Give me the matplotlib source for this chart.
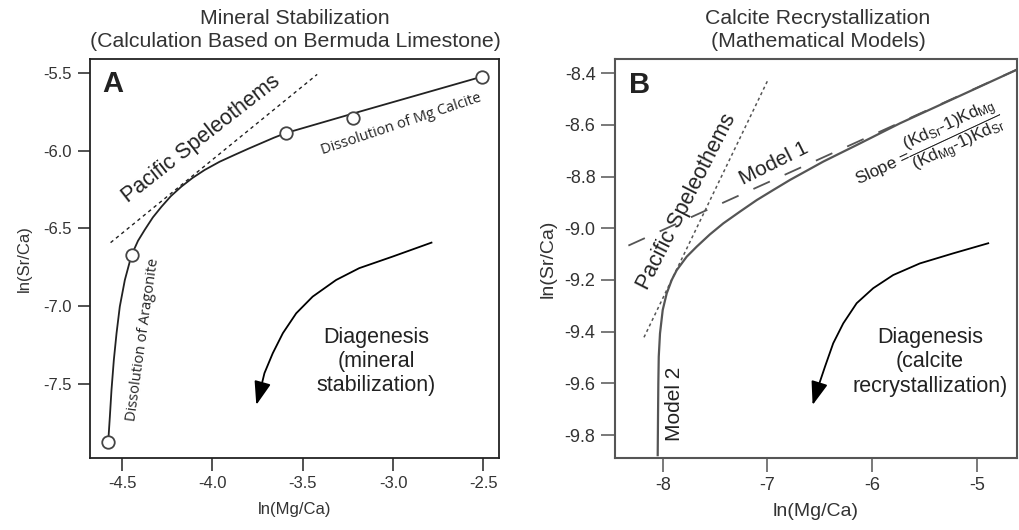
import matplotlib
matplotlib.use("Agg")
import matplotlib.pyplot as plt
import numpy as np

plt.rcParams['font.family'] = ['Liberation Sans', 'DejaVu Sans']
plt.rcParams['mathtext.fontset'] = 'custom'
plt.rcParams['mathtext.rm'] = 'Liberation Sans'
plt.rcParams['mathtext.it'] = 'Liberation Sans'

# ---- panel A data ----
a_pts_x = [-4.577, -4.448, -3.594, -3.224, -2.509]
a_pts_y = [-7.871, -6.672, -5.888, -5.788, -5.526]

a_curve_x = [-4.577, -4.568, -4.559, -4.546, -4.531, -4.513, -4.485, -4.448,
             -4.412, -4.375, -4.330, -4.282, -4.230, -4.172, -4.110, -4.043,
             -3.960, -3.877, -3.800, -3.730, -3.660, -3.594, -3.187, -2.509]
a_curve_y = [-7.871, -7.710, -7.539, -7.346, -7.174, -7.003, -6.832, -6.672,
             -6.580, -6.510, -6.430, -6.361, -6.293, -6.232, -6.176, -6.125,
             -6.072, -6.028, -5.988, -5.953, -5.918, -5.888, -5.751, -5.526]

a_pac_x = [-4.564, -3.420]
a_pac_y = [-6.592, -5.511]

a_arrow_x = [-2.787, -3.003, -3.187, -3.315, -3.445, -3.536, -3.610, -3.666,
             -3.712, -3.739, -3.757]
a_arrow_y = [-6.592, -6.682, -6.756, -6.832, -6.939, -7.046, -7.174, -7.303,
             -7.431, -7.560, -7.635]

a_xticks = [-4.5, -4.0, -3.5, -3.0, -2.5]
a_yticks = [-5.5, -6.0, -6.5, -7.0, -7.5]

# ---- panel B data ----
b_curve_x = [-8.048, -8.045, -8.042, -8.038, -8.026, -8.000, -7.962, -7.914,
             -7.866, -7.771, -7.675, -7.550, -7.421, -7.260, -7.102, -6.940,
             -6.784, -6.466, -6.147, -5.734, -4.588]
b_curve_y = [-9.878, -9.729, -9.600, -9.497, -9.407, -9.316, -9.252, -9.200,
             -9.162, -9.110, -9.071, -9.024, -8.981, -8.935, -8.891, -8.851,
             -8.813, -8.742, -8.678, -8.594, -8.381]

b_model1_x = [-8.328, -4.588]
b_model1_y = [-9.067, -8.381]

b_pac_x = [-8.179, -6.991]
b_pac_y = [-9.422, -8.423]

b_arrow_x = [-4.890, -5.224, -5.543, -5.798, -5.989, -6.147, -6.275, -6.371,
             -6.450, -6.514, -6.568]
b_arrow_y = [-9.058, -9.097, -9.136, -9.181, -9.232, -9.290, -9.368, -9.445,
             -9.536, -9.613, -9.684]

b_xticks = [-8, -7, -6, -5]
b_yticks = [-8.4, -8.6, -8.8, -9.0, -9.2, -9.4, -9.6, -9.8]

titles_a = ['Mineral Stabilization', '(Calculation Based on Bermuda Limestone)']
titles_b = ['Calcite Recrystallization', '(Mathematical Models)']

fig = plt.figure(figsize=(10.2, 5.3), dpi=100)
axA = fig.add_axes([90 / 1020, 1 - 458 / 530, 409 / 1020, 399 / 530])
axB = fig.add_axes([615 / 1020, 1 - 458 / 530, 402 / 1020, 399 / 530])

dark = '#222222'
gray = '#555555'
arrow_style = '-|>,head_length=0.9,head_width=0.32'


def draw_arrow(ax, xs, ys):
    ax.plot(xs[:-1], ys[:-1], color='black', lw=1.3)
    ax.annotate('', xy=(xs[-1], ys[-1]), xytext=(xs[-2], ys[-2]),
                arrowprops=dict(arrowstyle=arrow_style, color='black', lw=1.3,
                                mutation_scale=16, shrinkA=0, shrinkB=0))


# ---------------- panel A ----------------
axA.plot(a_curve_x, a_curve_y, color=dark, lw=1.3)
axA.plot(a_pts_x, a_pts_y, 'o', ms=9, mfc='white', mec='#444444', mew=1.3)
axA.plot(a_pac_x, a_pac_y, color=dark, lw=1.0, ls=(0, (2.5, 2.5)))
draw_arrow(axA, a_arrow_x, a_arrow_y)

axA.set_xlim(-4.678, -2.413)
axA.set_ylim(-7.976, -5.412)
axA.set_xticks(a_xticks)
axA.set_xticklabels(['%.1f' % v for v in a_xticks])
axA.set_yticks(a_yticks)
axA.set_yticklabels(['%.1f' % v for v in a_yticks])
axA.tick_params(direction='out', length=9, width=1.1, labelsize=12,
                colors=dark, labelcolor='#333333', pad=4)
for s in axA.spines.values():
    s.set_color(dark)
    s.set_linewidth(1.3)
axA.set_xlabel('ln(Mg/Ca)', fontsize=12, color='#333333', labelpad=8)
axA.set_ylabel('ln(Sr/Ca)', fontsize=12, color='#333333', labelpad=8)

axA.text(-4.55, -5.57, 'A', fontsize=21, fontweight='bold', color=dark,
         ha='center', va='center')
axA.text(-4.06, -5.925, 'Pacific Speleothems', fontsize=15.5, rotation=38,
         ha='center', va='center', color=dark, rotation_mode='anchor')
axA.text(-2.956, -5.829, 'Dissolution of Mg Calcite', fontsize=10.5,
         family=['Open Sans', 'DejaVu Sans'], rotation=18.5, ha='center',
         va='center', color=dark, rotation_mode='anchor')
axA.text(-4.386, -7.217, 'Dissolution of Aragonite', fontsize=10.5,
         family=['Open Sans', 'DejaVu Sans'], rotation=82, ha='center',
         va='center', color=dark, rotation_mode='anchor')
axA.text(-3.094, -7.357, 'Diagenesis\n(mineral\nstabilization)', fontsize=15.5,
         ha='center', va='center', color=dark, linespacing=1.2)

# ---------------- panel B ----------------
axB.plot(b_curve_x, b_curve_y, color=gray, lw=1.6)
axB.plot(b_model1_x, b_model1_y, color=gray, lw=1.3, ls=(0, (10, 9)))
axB.plot(b_pac_x, b_pac_y, color=gray, lw=1.1, ls=(0, (2, 2)))
draw_arrow(axB, b_arrow_x, b_arrow_y)

axB.set_xlim(-8.456, -4.615)
axB.set_ylim(-9.889, -8.345)
axB.set_xticks(b_xticks)
axB.set_xticklabels(['%d' % v for v in b_xticks])
axB.set_yticks(b_yticks)
axB.set_yticklabels(['%.1f' % v for v in b_yticks])
axB.tick_params(direction='out', length=10, width=1.1, labelsize=13,
                colors=gray, labelcolor='#333333', pad=4)
for s in axB.spines.values():
    s.set_color(gray)
    s.set_linewidth(1.5)
axB.set_xlabel('ln(Mg/Ca)', fontsize=14, color='#333333', labelpad=6)
axB.set_ylabel('ln(Sr/Ca)', fontsize=14, color='#333333', labelpad=6)

axB.text(-8.217, -8.445, 'B', fontsize=21, fontweight='bold', color=dark,
         ha='center', va='center')
axB.text(-7.771, -8.897, 'Pacific Speleothems', fontsize=15.5, rotation=63,
         ha='center', va='center', color=dark, rotation_mode='anchor')
axB.text(-6.943, -8.748, 'Model 1', fontsize=15, rotation=26.5,
         ha='center', va='center', color=dark, rotation_mode='anchor')
axB.text(-7.883, -9.678, 'Model 2', fontsize=15, rotation=90,
         ha='center', va='center', color=dark, rotation_mode='anchor')
axB.text(-5.46, -8.69,
         r'Slope =$\dfrac{(\mathrm{Kd_{Sr}}\text{-}1)\mathrm{Kd_{Mg}}}{(\mathrm{Kd_{Mg}}\text{-}1)\mathrm{Kd_{Sr}}}$',
         fontsize=12.3, rotation=25, ha='center', va='center', color=dark,
         rotation_mode='anchor')
axB.text(-5.447, -9.517, 'Diagenesis\n(calcite\nrecrystallization)',
         fontsize=15.5, ha='center', va='center', color=dark, linespacing=1.2)

# titles, one line at a time (baselines at 24 px and 47 px from the top)
for cx, lines in [(295, titles_a), (818, titles_b)]:
    for base, line in zip([24, 47], lines):
        fig.text(cx / 1020, 1 - base / 530, line, ha='center', va='baseline',
                 fontsize=15.3, color='#333333')

fig.savefig('out.png', dpi=100)
